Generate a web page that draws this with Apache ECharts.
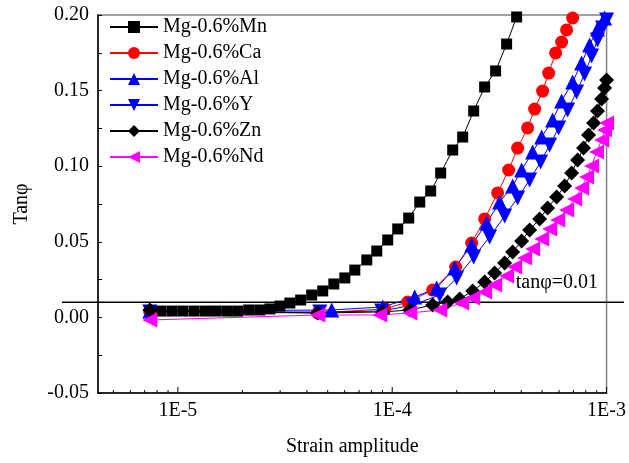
<!DOCTYPE html>
<html>
<head>
<meta charset="utf-8">
<script src="https://cdn.jsdelivr.net/npm/echarts@6/dist/echarts.min.js"></script>
<style>
html,body{margin:0;padding:0;background:#fff;}
#c{width:629px;height:463px;}
</style>
</head>
<body>
<div id="c"></div>
<script>
// ---- data (strain amplitude, tanφ) ----
const mnX = [7.40e-6, 8.33e-6, 9.38e-6, 1.055e-5, 1.19e-5, 1.34e-5, 1.50e-5, 1.69e-5, 1.90e-5, 2.14e-5, 2.41e-5, 2.69e-5, 2.99e-5, 3.33e-5, 3.74e-5, 4.21e-5, 4.74e-5, 5.34e-5, 6.01e-5, 6.69e-5, 7.61e-5, 8.47e-5, 9.53e-5, 1.061e-4, 1.194e-4, 1.344e-4, 1.512e-4, 1.683e-4, 1.915e-4, 2.132e-4, 2.399e-4, 2.699e-4, 3.037e-4, 3.418e-4, 3.806e-4];
const mnY = [0.0042, 0.0042, 0.0042, 0.0042, 0.0042, 0.0042, 0.0042, 0.0042, 0.0042, 0.0049, 0.0049, 0.0056, 0.0075, 0.0095, 0.0115, 0.0148, 0.0175, 0.0221, 0.0261, 0.0313, 0.038, 0.0439, 0.0512, 0.0585, 0.0657, 0.0763, 0.0836, 0.0955, 0.1107, 0.1193, 0.1365, 0.1524, 0.163, 0.1808, 0.1987];

const caX = [7.40e-6, 4.49e-5, 9.23e-5, 1.181e-4, 1.545e-4, 1.977e-4, 2.348e-4, 2.699e-4, 3.103e-4, 3.493e-4, 3.847e-4, 4.282e-4, 4.617e-4, 5.030e-4, 5.366e-4, 5.786e-4, 6.170e-4, 6.510e-4, 6.944e-4];
const caY = [0.0036, 0.0029, 0.0056, 0.0102, 0.0181, 0.0333, 0.0492, 0.0651, 0.0823, 0.0975, 0.112, 0.1253, 0.1378, 0.1497, 0.1616, 0.1749, 0.1821, 0.1901, 0.198];

const alX = [7.40e-6, 5.22e-5, 9.03e-5, 1.273e-4, 1.612e-4, 1.956e-4, 2.348e-4, 2.758e-4, 3.171e-4, 3.646e-4, 4.016e-4, 4.519e-4, 4.977e-4, 5.603e-4, 6.170e-4, 6.944e-4, 7.647e-4, 8.331e-4, 9.075e-4, 9.788e-4];
const alY = [0.0042, 0.0049, 0.0069, 0.0135, 0.0194, 0.0327, 0.0479, 0.0624, 0.0763, 0.0869, 0.0975, 0.1094, 0.1193, 0.1306, 0.1431, 0.1557, 0.1683, 0.1802, 0.1907, 0.198];

const yX = [7.40e-6, 4.59e-5, 8.93e-5, 1.246e-4, 1.665e-4, 1.998e-4, 2.399e-4, 2.848e-4, 3.346e-4, 3.847e-4, 4.375e-4, 4.924e-4, 5.424e-4, 5.975e-4, 6.580e-4, 7.248e-4, 7.897e-4, 8.511e-4, 9.075e-4, 9.581e-4, 1.0e-3];
const yY = [0.0036, 0.0036, 0.0042, 0.0082, 0.0148, 0.0261, 0.0399, 0.0532, 0.0671, 0.079, 0.0909, 0.1028, 0.114, 0.1253, 0.1372, 0.1491, 0.161, 0.1729, 0.1835, 0.1914, 0.1967];

const znX = [7.40e-6, 4.49e-5, 9.03e-5, 1.207e-4, 1.545e-4, 1.815e-4, 2.064e-4, 2.373e-4, 2.699e-4, 3.005e-4, 3.346e-4, 3.646e-4, 4.016e-4, 4.375e-4, 4.872e-4, 5.308e-4, 5.848e-4, 6.372e-4, 6.869e-4, 7.326e-4, 7.813e-4, 8.242e-4, 8.695e-4, 9.075e-4, 9.478e-4, 9.788e-4, 1.0e-3];
const znY = [0.0049, 0.0029, 0.0036, 0.0049, 0.0082, 0.0102, 0.0122, 0.0175, 0.0234, 0.0294, 0.036, 0.0433, 0.0505, 0.0578, 0.0651, 0.0724, 0.0796, 0.0869, 0.0955, 0.1041, 0.112, 0.1206, 0.1286, 0.1365, 0.1444, 0.1517, 0.157];

const ndX = [7.40e-6, 4.49e-5, 8.74e-5, 1.207e-4, 1.665e-4, 2.109e-4, 2.373e-4, 2.699e-4, 3.005e-4, 3.418e-4, 3.725e-4, 4.147e-4, 4.519e-4, 4.977e-4, 5.424e-4, 5.912e-4, 6.510e-4, 7.094e-4, 7.647e-4, 8.068e-4, 8.511e-4, 8.979e-4, 9.478e-4, 9.788e-4, 1.0e-3];
const ndY = [-0.0017, 0.0016, 0.0016, 0.0029, 0.0049, 0.0095, 0.0128, 0.0168, 0.0214, 0.0274, 0.0333, 0.0393, 0.0452, 0.0519, 0.0585, 0.0644, 0.071, 0.0783, 0.0856, 0.0929, 0.1001, 0.1094, 0.1173, 0.1239, 0.1286];

const seriesNames = ['Mg-0.6%Mn', 'Mg-0.6%Ca', 'Mg-0.6%Al', 'Mg-0.6%Y', 'Mg-0.6%Zn', 'Mg-0.6%Nd'];

// reference line tanφ = 0.01 (spans the whole figure width, on an auxiliary 0..1 axis)
const refLevel = 0.01;
const refSpan = [0, 1];
const refLabel = 'tanφ=0.01';

// axis ticks
const xMajorTicks = [1e-5, 1e-4, 1e-3];
const xMinorTicks = [5e-6, 6e-6, 7e-6, 8e-6, 9e-6, 2e-5, 3e-5, 4e-5, 5e-5, 6e-5, 7e-5, 8e-5, 9e-5, 2e-4, 3e-4, 4e-4, 5e-4, 6e-4, 7e-4, 8e-4, 9e-4];
const xMin = 4.24e-6, xMax = 1e-3;
const yMin = -0.05, yMax = 0.20, yStep = 0.05;

const FONT = '"Liberation Serif", "Times New Roman", serif';
const zip = (xs, ys) => xs.map((x, i) => [x, ys[i]]);

function mk(name, xs, ys, color, symbol, size, rot) {
  return {
    name, type: 'line', data: zip(xs, ys),
    symbol, symbolSize: size, symbolRotate: rot || 0,
    showAllSymbol: true,
    lineStyle: { color, width: 1 },
    itemStyle: { color, borderWidth: 0 },
    emphasis: { disabled: true },
    z: 3
  };
}

const tickData = xMajorTicks.map(v => [v, yMin, 1]).concat(xMinorTicks.map(v => [v, yMin, 0]));

const chart = echarts.init(document.getElementById('c'), null, { renderer: 'canvas' });
chart.setOption({
  animation: false,
  backgroundColor: '#fff',
  textStyle: { fontFamily: FONT },
  grid: [
    { left: 98, right: 22, top: 15, bottom: 70, show: true, borderColor: '#808080', borderWidth: 1.5, backgroundColor: 'transparent' },
    { left: 62, right: 5, top: 15, bottom: 70, show: false }
  ],
  legend: {
    data: seriesNames,
    orient: 'vertical', left: 109, top: 17, padding: 0,
    itemWidth: 48, itemHeight: 15, itemGap: 6,
    textStyle: { fontFamily: FONT, fontSize: 20, color: '#000' }
  },
  xAxis: [{
    type: 'log', logBase: 10, min: xMin, max: xMax, gridIndex: 0,
    name: 'Strain amplitude', nameLocation: 'middle', nameGap: 44,
    nameTextStyle: { fontFamily: FONT, fontSize: 20, color: '#000' },
    axisLine: { show: true, onZero: false, lineStyle: { color: '#000', width: 1.5 } },
    axisTick: { show: false },
    splitLine: { show: false },
    axisLabel: {
      margin: 8, fontFamily: FONT, fontSize: 20, color: '#000', showMinLabel: false,
      formatter: v => {
        const e = Math.log10(v);
        return Math.abs(e - Math.round(e)) < 1e-6 ? '1E' + Math.round(e) : '';
      }
    }
  }, {
    type: 'value', min: refSpan[0], max: refSpan[1], gridIndex: 1, show: false
  }],
  yAxis: [{
    type: 'value', min: yMin, max: yMax, interval: yStep, gridIndex: 0,
    name: 'Tanφ', nameLocation: 'middle', nameGap: 66,
    nameTextStyle: { fontFamily: FONT, fontSize: 20, color: '#000' },
    axisLine: { show: true, onZero: false, lineStyle: { color: '#000', width: 1.5 } },
    axisTick: { show: true, inside: true, length: 4, lineStyle: { color: '#000' } },
    minorTick: { show: true, splitNumber: 2, length: 4, lineStyle: { color: '#000' } },
    splitLine: { show: false },
    axisLabel: { margin: 9, fontFamily: FONT, fontSize: 20, color: '#000', formatter: v => v.toFixed(2) }
  }, {
    type: 'value', min: yMin, max: yMax, gridIndex: 1, show: false
  }],
  series: [
    {
      name: 'ref', type: 'line', xAxisIndex: 1, yAxisIndex: 1,
      data: [
        [refSpan[0], refLevel],
        { value: [refSpan[1], refLevel],
          label: { show: true, formatter: refLabel, position: 'top', align: 'right', distance: 6, offset: [-26, -3],
                   fontFamily: FONT, fontSize: 20, color: '#000' } }
      ],
      symbol: 'circle', symbolSize: 1, showSymbol: true, showAllSymbol: true, silent: true,
      itemStyle: { color: 'rgba(0,0,0,0)' },
      lineStyle: { color: '#000', width: 1.5 }, z: 2
    },
    {
      name: 'xticks', type: 'custom', data: tickData, silent: true, clip: false, z: 4,
      renderItem: (params, api) => {
        const p = api.coord([api.value(0), api.value(1)]);
        const len = api.value(2) ? 6 : 3;
        return { type: 'line', shape: { x1: p[0], y1: p[1], x2: p[0], y2: p[1] - len },
                 style: { stroke: '#000', lineWidth: 1 } };
      }
    },
    mk('Mg-0.6%Mn', mnX, mnY, '#000000', 'rect', 11),
    mk('Mg-0.6%Ca', caX, caY, '#ff0000', 'circle', 13),
    mk('Mg-0.6%Al', alX, alY, '#0000ff', 'triangle', 15),
    mk('Mg-0.6%Y', yX, yY, '#0000ff', 'triangle', 15, 180),
    mk('Mg-0.6%Zn', znX, znY, '#000000', 'diamond', 15),
    mk('Mg-0.6%Nd', ndX, ndY, '#ff00ff', 'triangle', 15, 90)
  ]
});
</script>
</body>
</html>
